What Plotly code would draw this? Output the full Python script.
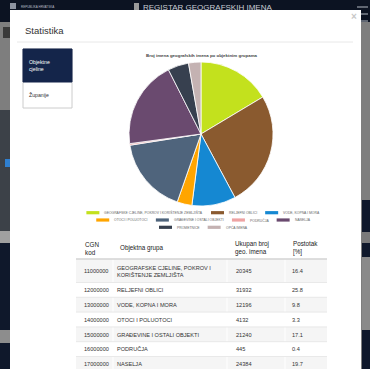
import plotly.graph_objects as go

# ---------------- data ----------------
cgn_codes = ["11000000", "12000000", "13000000", "14000000", "15000000",
             "16000000", "17000000", "18000000", "19000000"]
groups = ["GEOGRAFSKE CJELINE, POKROV I KORIŠTENJE ZEMLJIŠTA", "RELJEFNI OBLICI",
          "VODE, KOPNA I MORA", "OTOCI I POLUOTOCI", "GRAĐEVINE I OSTALI OBJEKTI",
          "PODRUČJA", "NASELJA", "PROMETNICE", "OPĆA IMENA"]
counts = [20345, 31932, 12196, 4132, 21240, 445, 24384, 5800, 3450]
percents = ["16.4", "25.8", "9.8", "3.3", "17.1", "0.4", "19.7", "4.7", "2.8"]
colors = ["#c3e11d", "#8a5a2f", "#1588d2", "#ffa500", "#4f647c",
          "#eea3a3", "#6a4a6f", "#37404f", "#c4b2b2"]
table_headers = ["CGN<br>kod", "Objektna grupa", "Ukupan broj<br>geo. imena", "Postotak<br>[%]"]
chart_title = "Broj imena geografskih imena po objektnim grupama"
tabs = ["Objektne<br>cjeline", "Županije"]

W, H = 370, 369
FONT = "Liberation Sans, Arial, sans-serif"


def px(x):
    return x / W


def py(y):
    return 1 - y / H


shapes = []
annotations = []


def rect(x0, y0, x1, y1, fill, line=None, lw=0, layer="below"):
    shapes.append(dict(type="rect", xref="paper", yref="paper",
                       x0=px(x0), x1=px(x1), y0=py(y1), y1=py(y0),
                       fillcolor=fill, line=dict(color=line or fill, width=lw),
                       layer=layer))


def line(x0, y0, x1, y1, color, lw=1, layer="below"):
    shapes.append(dict(type="line", xref="paper", yref="paper",
                       x0=px(x0), x1=px(x1), y0=py(y0), y1=py(y1),
                       line=dict(color=color, width=lw), layer=layer))


def text(x, y, s, size, color, xanchor="left", bold=False, family=FONT):
    annotations.append(dict(x=px(x), y=py(y), xref="paper", yref="paper",
                            text=("<b>%s</b>" % s) if bold else s, showarrow=False,
                            xanchor=xanchor, yanchor="middle", align="left",
                            font=dict(size=size, color=color, family=family)))


# ---------- page behind the modal ----------
rect(0, 0, W, H, "#7e7e7e")
rect(0, 0, W, 22, "#0c1322")
rect(3, 27, 10, 38, "#3a3a3a")
rect(0, 110, 10, 231, "#3c4148")
rect(5, 159, 10, 167, "#2f7fd0")
rect(0, 231, 10, 243, "#a0a0a0")
rect(0, 243, 10, H, "#0f182b")
rect(0, 330, 10, 343, "#8d8d8d")
rect(362, 200, W, H, "#0f182b")
rect(362, 232, W, 243, "#7a7a7a")
rect(362, 257, W, 330, "#8a8a8a")
for yy in (7, 14, 21):
    line(357, yy, 368, yy, "#9aa0aa", 1.2)
rect(10, 3, 16, 9, "#8d93a0")
rect(134, 3, 139, 10, "#9a9a9a")
text(19, 7, "REPUBLIKA HRVATSKA", 3, "#b8bcc6")
text(141, 7.6, "REGISTAR GEOGRAFSKIH IMENA", 8, "#c8ccd4")

# ---------- modal ----------
rect(10, 10, 361, H, "#ffffff")
line(17, 42, 353, 42, "#e8e8e8", 1)
text(354, 16, "×", 10, "#c8c8c8", xanchor="center", bold=True)
text(23, 30, "Statistika", 9.5, "#333333")

# tabs
rect(23, 49, 72, 108, "#ffffff", "#cccccc", 1)
rect(23, 49, 72, 82, "#14254a", "#14254a", 1)
text(27, 65.5, tabs[0], 5.2, "#ffffff")
text(27, 95, tabs[1], 5.2, "#333333")

# chart title
text(202, 55, chart_title, 4.4, "#444444", xanchor="center", bold=True)

# ---------- pie ----------
fig = go.Figure()
fig.add_trace(go.Pie(
    labels=groups, values=counts, sort=False, direction="clockwise", rotation=0,
    marker=dict(colors=colors, line=dict(color="#ffffff", width=0.8)),
    textinfo="none", showlegend=False, hoverinfo="label+value",
    domain=dict(x=[px(129), px(273)], y=[py(206), py(62)]),
))

# ---------- custom centred legend ----------
AW = {"I": .278, "J": .5, "L": .556, "F": .611, "T": .611, "Z": .611, "M": .833,
      "O": .778, "G": .778, "Q": .778, " ": .278, ",": .278, "C": .722, "Č": .722,
      "Ć": .722, "D": .722, "Đ": .722, "H": .722, "N": .722, "R": .722, "U": .722}
LFS = 3.4


def tw(s):
    return sum(AW.get(ch, .667) for ch in s) * LFS


rows = [[0, 1, 2], [3, 4, 5, 6], [7, 8]]
row_y = [212.7, 220, 227.3]
SW, GAP, SP, CX = 13, 3, 10, 202
for r, idxs in enumerate(rows):
    widths = [SW + GAP + tw(groups[i]) for i in idxs]
    total = sum(widths) + SP * (len(idxs) - 1)
    x = CX - total / 2
    for i, wdt in zip(idxs, widths):
        rect(x, row_y[r] - 1.6, x + SW, row_y[r] + 1.6, colors[i], colors[i], 0, layer="above")
        text(x + SW + GAP, row_y[r] + 0.2, groups[i], LFS, "#666666")
        x += wdt + SP

# ---------- table (HTML-like layout) ----------
TX0, TX1 = 76, 327
col_edges = [113, 227, 285]
head_x = [82.5, 118, 233, 290.5]
body_x = [81.5, 115, 233.5, 290]
HEAD_TOP, HEAD_BOT = 236, 259
ROW_H, ROW_H2 = 14.8, 23.5

for j, h in enumerate(table_headers):
    text(head_x[j], (HEAD_TOP + HEAD_BOT) / 2 + 0.5, h, 6.3, "#222222")

table_groups = [g.replace(" I KORIŠTENJE", " I<br>KORIŠTENJE") for g in groups]
y = HEAD_BOT
for k in range(len(groups)):
    rh = ROW_H2 if "<br>" in table_groups[k] else ROW_H
    if y > H:
        break
    if k % 2 == 0:
        rect(TX0, y, TX1, y + rh, "#f5f5f5")
        for ce in col_edges:
            line(ce, y, ce, y + rh, "#ffffff", 1)
    line(TX0, y, TX1, y, "#e4e4e4", 0.8)
    cy = y + rh / 2 + 0.3
    vals = [cgn_codes[k], table_groups[k], str(counts[k]), percents[k]]
    for j, v in enumerate(vals):
        text(body_x[j], cy, v, 5.6, "#333333")
    y += rh
line(TX0, HEAD_BOT, TX1, HEAD_BOT, "#d6d6d6", 1.6)

fig.update_layout(
    width=W, height=H, margin=dict(l=0, r=0, t=0, b=0),
    paper_bgcolor="#ffffff", plot_bgcolor="#ffffff",
    shapes=shapes, annotations=annotations, showlegend=False,
    font=dict(family=FONT),
)
fig.write_html("out.html", config={"displayModeBar": False},
               post_script="document.body.style.margin='0';"
                           "document.body.style.overflow='hidden';")
